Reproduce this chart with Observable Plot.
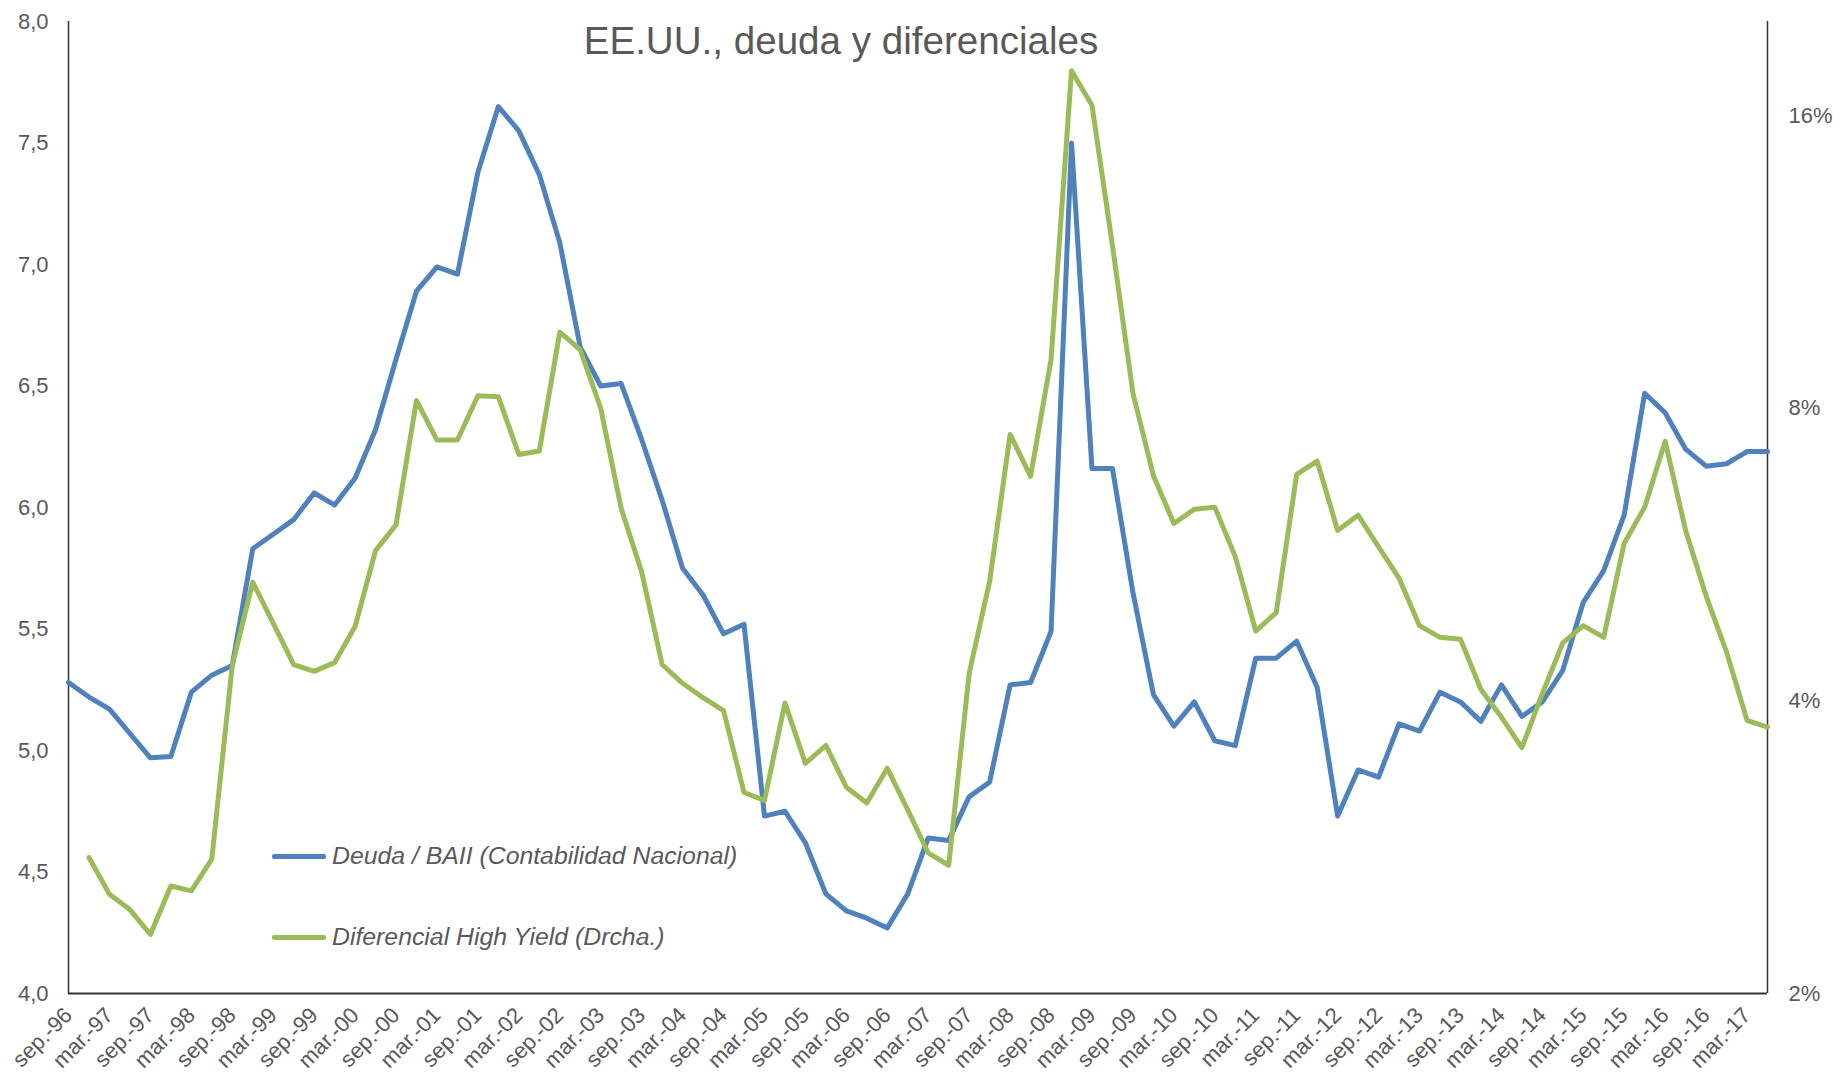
<!DOCTYPE html>
<html>
<head>
<meta charset="utf-8">
<script src="https://cdn.jsdelivr.net/npm/d3@7"></script>
<script src="https://cdn.jsdelivr.net/npm/@observablehq/plot@0.6"></script>
<style>
  html, body { margin: 0; padding: 0; background: #fff; }
  #wrap { position: relative; width: 1839px; height: 1078px; font-family: "Liberation Sans", Arial, sans-serif; }
  #title { position: absolute; left: 841px; top: 22px; transform: translateX(-50%); font-size: 38.6px; line-height: 1; color: #595959; white-space: nowrap; }
  .leg { position: absolute; left: 272px; display: flex; align-items: center; font-size: 24.8px; font-style: italic; color: #595959; white-space: nowrap; }
  .leg .sw { width: 54px; height: 5px; border-radius: 2px; margin-right: 6px; }
</style>
</head>
<body>
<div id="wrap">
  <div id="chart"></div>
  <div id="title">EE.UU., deuda y diferenciales</div>
  <div class="leg" style="top:842px"><span class="sw" style="background:#4F81BD"></span>Deuda / BAII (Contabilidad Nacional)</div>
  <div class="leg" style="top:923px"><span class="sw" style="background:#9BBB59"></span>Diferencial High Yield (Drcha.)</div>
</div>
<script>
const quarters = [
  "sep.-96","dic.-96",
  "mar.-97","jun.-97","sep.-97","dic.-97",
  "mar.-98","jun.-98","sep.-98","dic.-98",
  "mar.-99","jun.-99","sep.-99","dic.-99",
  "mar.-00","jun.-00","sep.-00","dic.-00",
  "mar.-01","jun.-01","sep.-01","dic.-01",
  "mar.-02","jun.-02","sep.-02","dic.-02",
  "mar.-03","jun.-03","sep.-03","dic.-03",
  "mar.-04","jun.-04","sep.-04","dic.-04",
  "mar.-05","jun.-05","sep.-05","dic.-05",
  "mar.-06","jun.-06","sep.-06","dic.-06",
  "mar.-07","jun.-07","sep.-07","dic.-07",
  "mar.-08","jun.-08","sep.-08","dic.-08",
  "mar.-09","jun.-09","sep.-09","dic.-09",
  "mar.-10","jun.-10","sep.-10","dic.-10",
  "mar.-11","jun.-11","sep.-11","dic.-11",
  "mar.-12","jun.-12","sep.-12","dic.-12",
  "mar.-13","jun.-13","sep.-13","dic.-13",
  "mar.-14","jun.-14","sep.-14","dic.-14",
  "mar.-15","jun.-15","sep.-15","dic.-15",
  "mar.-16","jun.-16","sep.-16","dic.-16",
  "mar.-17","jun.-17"
];

// Deuda / BAII (left axis)
const deuda = [
  5.28,5.22,5.17,5.07,4.97,4.975,5.24,5.31,5.35,5.83,
  5.89,5.95,6.06,6.01,6.12,6.32,6.61,6.89,6.99,6.96,
  7.38,7.65,7.55,7.37,7.09,6.66,6.50,6.51,6.28,6.03,
  5.75,5.64,5.48,5.52,4.73,4.75,4.62,4.41,4.34,4.31,
  4.27,4.41,4.64,4.63,4.81,4.87,5.27,5.28,5.49,7.50,
  6.16,6.16,5.65,5.23,5.10,5.20,5.04,5.02,5.38,5.38,
  5.45,5.26,4.73,4.92,4.89,5.11,5.08,5.24,5.20,5.12,
  5.27,5.14,5.20,5.33,5.61,5.74,5.97,6.47,6.39,6.24,
  6.17,6.18,6.23,6.23
];

// Diferencial High Yield, % (right axis, log scale)
const highYield = [
  null,
  2.76,2.53,2.44,2.30,2.58,2.55,2.75,4.35,5.30,4.81,
  4.36,4.29,4.38,4.77,5.71,6.07,8.15,7.42,7.42,8.24,
  8.22,7.17,7.23,9.58,9.19,8.00,6.31,5.43,4.36,4.17,
  4.03,3.91,3.22,3.16,3.98,3.45,3.60,3.26,3.14,3.41,
  3.09,2.79,2.71,4.27,5.31,7.52,6.81,8.98,17.8,16.4,
  11.76,8.29,6.82,6.09,6.30,6.33,5.63,4.72,4.93,6.84,
  7.06,5.99,6.21,5.76,5.35,4.78,4.65,4.63,4.11,3.85,
  3.58,4.07,4.59,4.78,4.65,5.81,6.33,7.40,5.99,5.13,
  4.49,3.82,3.76
];

const leftTicks = [4, 4.5, 5, 5.5, 6, 6.5, 7, 7.5, 8];
const rightTicks = [2, 4, 8, 16];
const leftDomain = [4, 8];
const rightDomain = [2, 20];

// map right-axis (log) values onto the left-axis coordinate system
const toLeft = v => leftDomain[0] + (leftDomain[1] - leftDomain[0]) *
  Math.log(v / rightDomain[0]) / Math.log(rightDomain[1] / rightDomain[0]);

const rows = quarters.map((q, i) => ({q, deuda: deuda[i], hy: highYield[i]}));
const xTicks = quarters.filter((q, i) => i % 2 === 0);

const chart = Plot.plot({
  width: 1839,
  height: 1078,
  marginLeft: 68,
  marginRight: 72,
  marginTop: 21,
  marginBottom: 85,
  style: {fontFamily: "Liberation Sans, Arial, sans-serif", fontSize: "22px", color: "#595959", background: "#fff"},
  x: {type: "point", domain: quarters, padding: 0},
  y: {domain: leftDomain},
  marks: [
    Plot.axisX({ticks: xTicks, tickSize: 0, tickPadding: 18, tickRotate: -45, label: null, fontSize: 22}),
    Plot.axisY({ticks: leftTicks, anchor: "left", tickSize: 0, tickPadding: 20, label: null,
      tickFormat: d => d.toFixed(1).replace(".", ",")}),
    Plot.axisY(rightTicks.map(toLeft), {anchor: "right", tickSize: 0, tickPadding: 21, label: null,
      tickFormat: d => Math.round(rightDomain[0] * Math.pow(rightDomain[1] / rightDomain[0], (d - leftDomain[0]) / (leftDomain[1] - leftDomain[0]))) + "%"}),
    Plot.ruleX([quarters[0], quarters[quarters.length - 1]], {stroke: "#333", strokeWidth: 1.5}),
    Plot.ruleY([leftDomain[0]], {stroke: "#333", strokeWidth: 2}),
    Plot.line(rows, {x: "q", y: "deuda", stroke: "#4F81BD", strokeWidth: 5, strokeLinejoin: "round", strokeLinecap: "round"}),
    Plot.line(rows, {x: "q", y: d => d.hy == null ? NaN : toLeft(d.hy), stroke: "#9BBB59", strokeWidth: 5, strokeLinejoin: "round", strokeLinecap: "round"})
  ]
});
document.getElementById("chart").appendChild(chart);
</script>
</body>
</html>
